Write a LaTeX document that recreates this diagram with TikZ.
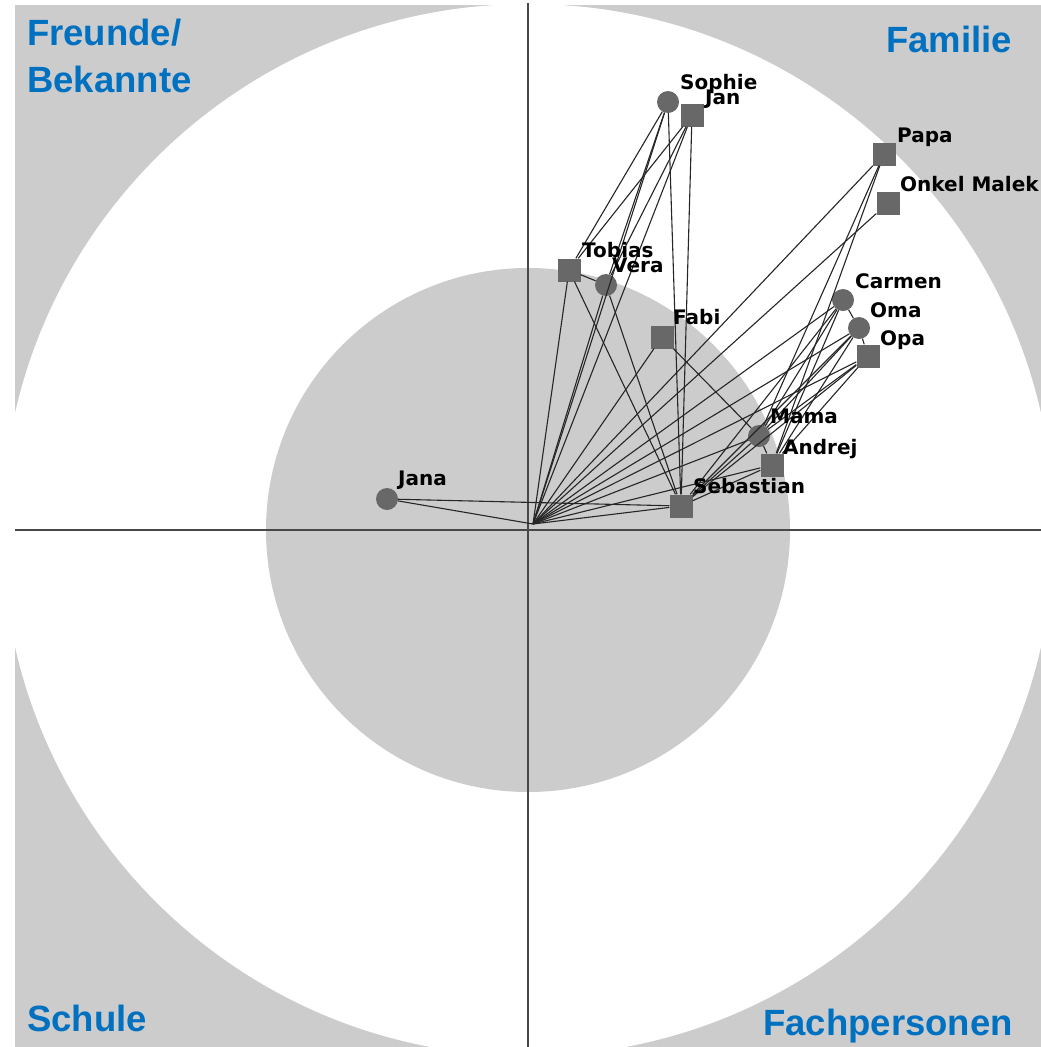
\documentclass[tikz,border=0pt]{standalone}
\usepackage{fontspec}
\setmainfont{Liberation Sans}
\newfontfamily\dvfont{DejaVu Sans}
\usetikzlibrary{calc}

\definecolor{titelblau}{RGB}{0,112,192}
\definecolor{hgrau}{RGB}{204,204,204}
\definecolor{kgrau}{RGB}{104,104,104}
\definecolor{agrau}{RGB}{72,72,72}

\begin{document}
\begin{tikzpicture}[x=1pt, y=-1pt,
  quad/.style={rectangle, fill=kgrau, minimum size=23pt, inner sep=0pt},
  kreis/.style={circle, fill=kgrau, minimum size=22pt, inner sep=0pt},
  lbl/.style={anchor=base west, inner sep=0pt, font=\dvfont\bfseries\fontsize{20}{22}\selectfont},
  titel/.style={inner sep=0pt, text=titelblau, font=\bfseries\fontsize{36.5}{40}\selectfont},
  kante/.style={line width=1.1pt, black!85},
  achse/.style={line width=2pt, agrau}]
  \useasboundingbox (0,0) rectangle (1041,1047);

  % --- hintergrund: kreise ---
  \fill[hgrau] (15,5) rectangle (1041,1047);
  \begin{scope}
    \clip (15,5) rectangle (1041,1047);
    \fill[white] (528,530) circle[radius=526];
  \end{scope}
  \fill[hgrau] (528,530) circle[radius=262];

  \draw[achse] (15,530) -- (1041,530);
  \draw[achse] (528,3) -- (528,1047);

  % --- personen ---
  \coordinate (ego) at (533,524);
  \node[kreis] (sophie) at (668,102) {};
  \node[quad]  (jan) at (692,115) {};
  \node[quad]  (tobias) at (569,270) {};
  \node[kreis] (vera) at (606,285) {};
  \node[quad]  (fabi) at (662,337) {};
  \node[quad]  (papa) at (884,154) {};
  \node[quad]  (malek) at (888,203) {};
  \node[kreis] (carmen) at (843,300) {};
  \node[kreis] (oma) at (859,328) {};
  \node[quad]  (opa) at (868,356) {};
  \node[kreis] (mama) at (759,436) {};
  \node[quad]  (andrej) at (772,465) {};
  \node[quad]  (sebastian) at (681,506) {};
  \node[kreis] (jana) at (387,499) {};

  % --- beziehungen ---
  \foreach \p in {sophie,jan,tobias,vera,fabi,papa,malek,carmen,oma,opa,mama,andrej,sebastian,jana}
    \draw[kante] (ego) -- (\p);
  \foreach \a/\b in {sophie/tobias, sophie/vera, jan/tobias, jan/vera,
      sophie/sebastian, jan/sebastian, tobias/vera, tobias/sebastian,
      vera/sebastian, fabi/mama, jana/sebastian, papa/mama, papa/andrej,
      carmen/oma, oma/opa, carmen/mama, carmen/andrej, oma/mama, oma/andrej,
      opa/mama, opa/andrej, carmen/sebastian, oma/sebastian, opa/sebastian,
      mama/andrej, mama/sebastian, andrej/sebastian}
    \draw[kante] (\a) -- (\b);

  % --- namen ---
  \node[lbl] (l-sophie) at (680,89) {Sophie};
  \node[lbl] (l-jan) at (705,104) {Jan};
  \node[lbl] (l-tobias) at (582,257) {Tobias};
  \node[lbl] (l-vera) at (612,272) {Vera};
  \node[lbl] (l-fabi) at (673,324) {Fabi};
  \node[lbl] (l-papa) at (897,142) {Papa};
  \node[lbl] (l-malek) at (900,191) {Onkel Malek};
  \node[lbl] (l-carmen) at (855,288) {Carmen};
  \node[lbl] (l-oma) at (870,317) {Oma};
  \node[lbl] (l-opa) at (880,345) {Opa};
  \node[lbl] (l-mama) at (770,423) {Mama};
  \node[lbl] (l-andrej) at (783,454) {Andrej};
  \node[lbl] (l-sebastian) at (693,493) {Sebastian};
  \node[lbl] (l-jana) at (398,485) {Jana};

  % --- sektoren ---
  \node[titel, anchor=base west] (t-freunde) at (27,45) {Freunde/};
  \node[titel, anchor=base west] (t-bekannte) at (27,92) {Bekannte};
  \node[titel, anchor=base east] (t-familie) at (1012,52) {Familie};
  \node[titel, anchor=base west] (t-schule) at (27,1031) {Schule};
  \node[titel, anchor=base east] (t-fach) at (1013,1035) {Fachpersonen};
\end{tikzpicture}
\end{document}
